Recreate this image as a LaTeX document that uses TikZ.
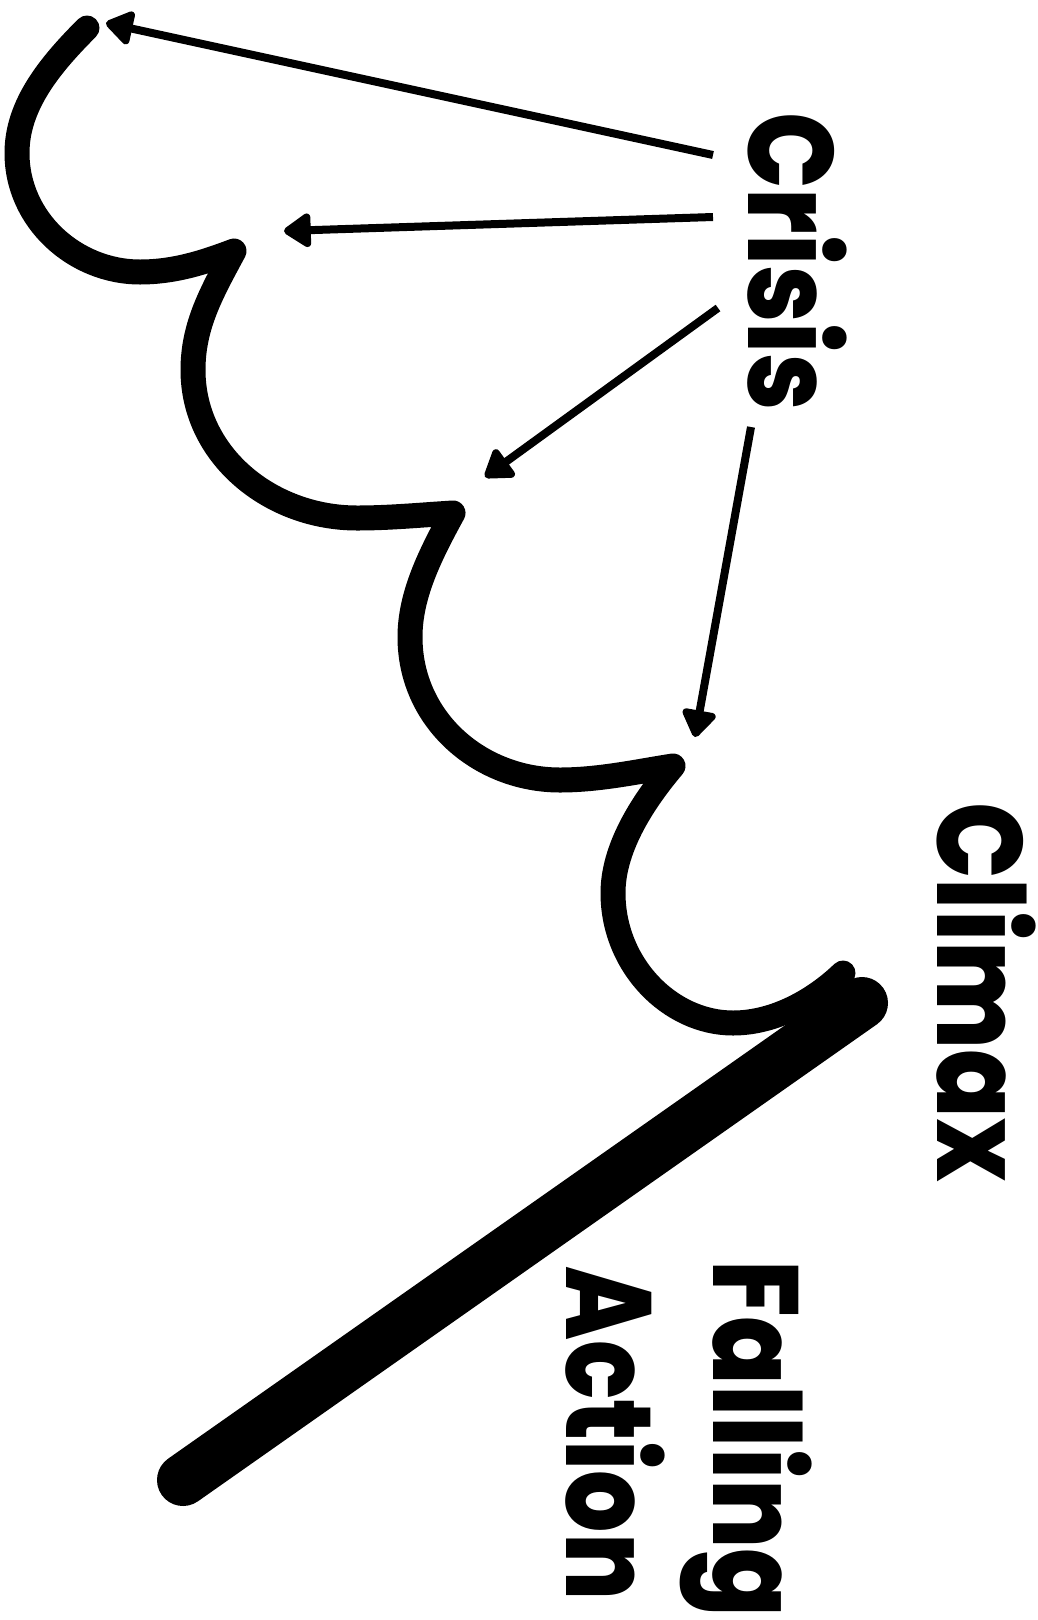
\documentclass[tikz,border=0pt]{standalone}
\usepackage{graphicx}
\usepackage{fontspec}
\setmainfont{Poppins}[BoldFont={* ExtraBold}]
\usetikzlibrary{arrows.meta}
\newcommand{\labtext}[2]{\scalebox{#1}[1.1]{#2}}
\tikzset{
  curve/.style={line width=25pt, line cap=round, line join=round},
  thick bar/.style={line width=52pt, line cap=round},
  pointer/.style={line width=8pt, -{Triangle[length=30pt,width=38pt,round]}},
  lab/.style={rotate=-90, inner sep=0pt, anchor=base west, font=\bfseries\fontsize{110}{110}\selectfont}
}
\begin{document}
\begin{tikzpicture}[x=1pt,y=-1pt]
\useasboundingbox (0,0) rectangle (1037,1620);
% rising curve
\draw[curve] (87,28) .. controls (50,65) and (17,105) .. (17,153)
  .. controls (17,220) and (75,272) .. (140,272)
  .. controls (175,272) and (205,262) .. (234,251)
  .. controls (212,292) and (193,325) .. (193,370)
  .. controls (193,455) and (270,518) .. (357,518)
  .. controls (390,518) and (420,515) .. (453,513)
  .. controls (430,555) and (410,595) .. (410,637)
  .. controls (410,720) and (480,780) .. (560,780)
  .. controls (600,780) and (640,771) .. (673,766)
  .. controls (640,805) and (613,850) .. (613,893)
  .. controls (613,965) and (670,1023) .. (733,1023)
  .. controls (775,1023) and (815,1000) .. (843,973);
% falling action bar
\coordinate (top) at (862,1003);
\coordinate (bot) at (183,1480);
\draw[thick bar] (top) -- (bot);
% labels
\node[lab] (crisis) at (748,112) {\labtext{0.92}{Crisis}};
\node[lab] (climax) at (937,802) {\labtext{0.92}{Climax}};
\node[lab] (fall) at (713,1260) {\labtext{0.92}{Falling}};
\node[lab] (act) at (566,1266) {\labtext{0.89}{Action}};
% arrow ends
\coordinate (a1s) at (713,155); \coordinate (a1e) at (106,23);
\coordinate (a2s) at (713,217); \coordinate (a2e) at (284,231);
\coordinate (a3s) at (718,308); \coordinate (a3e) at (485,477);
\coordinate (a4s) at (751,427); \coordinate (a4e) at (695,737);
\draw[pointer] (a1s) -- (a1e);
\draw[pointer] (a2s) -- (a2e);
\draw[pointer] (a3s) -- (a3e);
\draw[pointer] (a4s) -- (a4e);
\end{tikzpicture}
\end{document}
